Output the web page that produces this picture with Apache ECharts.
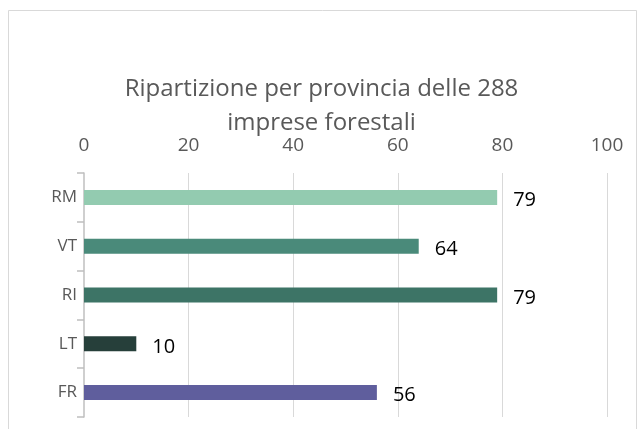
<!DOCTYPE html>
<html>
<head>
<meta charset="utf-8">
<script src="https://cdn.jsdelivr.net/npm/echarts@6/dist/echarts.min.js"></script>
<style>
  html, body { margin: 0; padding: 0; background: #fff; }
  #chart { width: 643px; height: 429px; }
</style>
</head>
<body>
<div id="chart"></div>
<script>
// province codes, top to bottom
const provinces = ["RM", "VT", "RI", "LT", "FR"];
const companies = [79, 64, 79, 10, 56];
const barColors = ["#93cbb0", "#4a8a7a", "#3d7466", "#263f3a", "#5f5e9d"];
const xTicks = [0, 20, 40, 60, 80, 100];

const chart = echarts.init(document.getElementById("chart"), null, { renderer: "canvas" });

chart.setOption({
  animation: false,
  backgroundColor: "#fff",
  title: {
    text: "Ripartizione per provincia delle 288\nimprese forestali",
    left: "center",
    top: 67,
    textStyle: {
      fontFamily: "Open Sans",
      fontWeight: "normal",
      fontSize: 24,
      lineHeight: 34,
      color: "#595959",
    },
  },
  graphic: [
    {
      type: "rect",
      shape: { x: 8.5, y: 10.5, width: 628, height: 430 },
      style: { fill: "none", stroke: "#d9d9d9", lineWidth: 1 },
      silent: true,
    },
  ],
  grid: { left: 84, right: 36, top: 173, bottom: 12 },
  xAxis: {
    type: "value",
    position: "top",
    min: xTicks[0],
    max: xTicks[xTicks.length - 1],
    interval: 20,
    axisLine: { show: false },
    axisTick: { show: false },
    axisLabel: {
      margin: 18,
      fontFamily: "Open Sans",
      fontSize: 19,
      color: "#595959",
    },
    splitLine: { showMinLine: false, lineStyle: { color: "#d9d9d9", width: 1 } },
  },
  yAxis: {
    type: "category",
    inverse: true,
    data: provinces,
    axisLine: { show: true, onZero: false, lineStyle: { color: "#bfbfbf", width: 1.5 } },
    axisTick: { show: true, length: 7, lineStyle: { color: "#bfbfbf", width: 1.5 } },
    axisLabel: {
      margin: 7,
      fontFamily: "Open Sans",
      fontSize: 17,
      color: "#595959",
    },
  },
  series: [
    {
      type: "bar",
      barWidth: 15,
      data: companies.map((v, i) => ({ value: v, itemStyle: { color: barColors[i] } })),
      label: {
        show: true,
        position: "right",
        distance: 16,
        fontFamily: "Open Sans",
        fontSize: 20,
        color: "#000",
        offset: [0, 3],
      },
    },
  ],
});
</script>
</body>
</html>
